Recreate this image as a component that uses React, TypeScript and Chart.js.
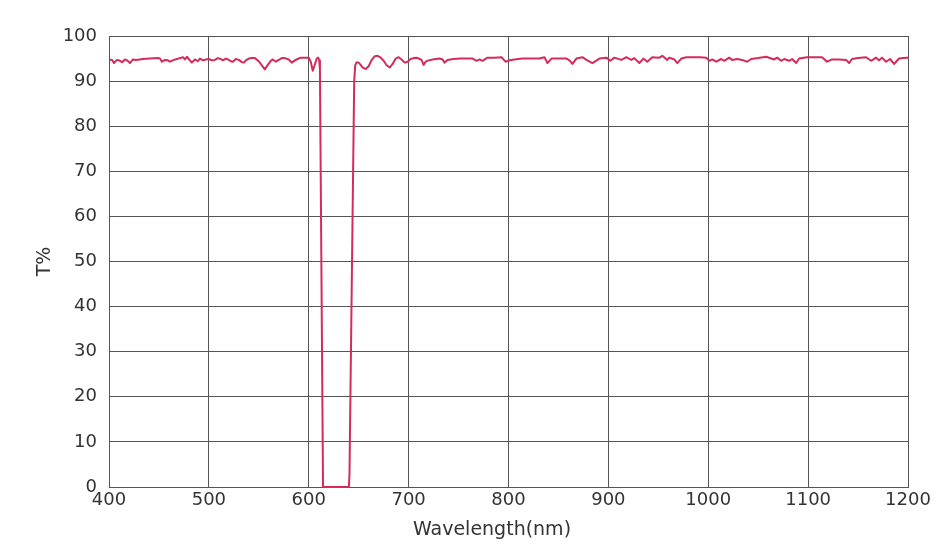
import React, { useEffect, useRef } from "react";
import { Chart, registerables } from "chart.js";

Chart.register(...registerables);

const wavelengths: number[] = [
  400, 403, 405, 408, 411, 413, 416, 418, 421, 424, 427, 434, 441, 449, 451, 453, 456, 459, 461, 465,
  468, 471, 474, 476, 478, 481, 483, 486, 489, 491, 494, 497, 500, 503, 506, 509, 512, 514, 517, 519,
  522, 524, 527, 530, 533, 535, 537, 540, 543, 546, 550, 553, 556, 559, 562, 564, 567, 570, 573, 576,
  580, 583, 586, 589, 592, 596, 600, 602, 604, 606, 608, 609.5, 610.5, 611.2, 614.3,
  640.2, 640.8, 645.5, 646.5, 648, 650, 652, 654, 657, 660, 663, 666, 669, 672, 675,
  678, 681, 684, 687, 690, 693, 696, 699, 702, 705, 708, 711, 713, 715, 717, 720, 724, 727, 731, 734,
  736, 739, 745, 752, 758, 764, 768, 771, 774, 779, 786, 793, 797, 801, 806, 814, 822, 831, 836, 839,
  843, 850, 858, 861, 864, 868, 874, 878, 884, 891, 898, 902, 906, 913, 918, 923, 926, 931, 935, 939,
  944, 951, 954, 959, 961, 966, 969, 973, 978, 985, 992, 998, 1001, 1004, 1008, 1013, 1016, 1021, 1024, 1029,
  1034, 1039, 1043, 1050, 1058, 1066, 1069, 1073, 1076, 1081, 1084, 1088, 1091, 1099, 1106, 1114, 1119, 1124, 1131, 1138,
  1141, 1144, 1150, 1158, 1163, 1168, 1171, 1174, 1178, 1182, 1186, 1191, 1198, 1200,
];

const transmission: number[] = [
  94.8, 94.7, 94.0, 94.7, 94.5, 94.2, 94.8, 94.6, 94.0, 94.8, 94.7, 94.9, 95.0, 95.1, 95.0, 94.3, 94.7, 94.6, 94.3, 94.7,
  94.9, 95.1, 95.3, 94.8, 95.4, 94.6, 94.1, 94.8, 94.4, 95.0, 94.6, 94.8, 94.9, 94.6, 94.7, 95.1, 94.9, 94.6, 95.0, 94.8,
  94.4, 94.3, 94.9, 94.7, 94.2, 94.1, 94.6, 95.0, 95.1, 95.1, 94.4, 93.5, 92.6, 93.6, 94.5, 94.8, 94.3, 94.7, 95.1, 95.1,
  94.8, 94.1, 94.6, 94.9, 95.2, 95.2, 95.2, 94.3, 92.3, 93.6, 95.0, 95.2, 94.6, 92.5, 0,
  0, 3, 90, 93.5, 94.2, 94.1, 93.6, 93.0, 92.7, 93.3, 94.7, 95.5, 95.6, 95.2, 94.5,
  93.5, 93.0, 93.8, 95.0, 95.3, 94.8, 94.1, 94.3, 94.9, 95.1, 95.2, 94.9, 94.7, 93.6, 94.3, 94.6, 94.8, 94.9, 95.0, 94.8,
  94.1, 94.7, 94.9, 95.0, 95.0, 95.0, 94.5, 94.8, 94.5, 95.2, 95.2, 95.3, 94.3, 94.6, 94.8, 95.0, 95.0, 95.0, 95.3, 94.0,
  95.0, 95.0, 95.0, 94.6, 93.8, 95.0, 95.3, 94.7, 94.0, 95.0, 95.2, 94.5, 95.2, 94.7, 95.3, 94.7, 95.1, 94.0, 95.0, 94.3,
  95.3, 95.2, 95.6, 94.7, 95.2, 94.8, 94.0, 95.0, 95.3, 95.3, 95.3, 95.2, 94.5, 94.8, 94.3, 94.9, 94.5, 95.2, 94.7, 94.9,
  94.7, 94.3, 94.9, 95.1, 95.4, 94.8, 95.2, 94.5, 94.9, 94.5, 94.9, 94.0, 95.0, 95.3, 95.3, 95.3, 94.3, 94.8, 94.8, 94.7,
  94.0, 94.9, 95.1, 95.3, 94.5, 95.2, 94.6, 95.2, 94.3, 94.9, 93.8, 95.0, 95.2, 95.2,
];

const xTitle = "Wavelength(nm)";
const yTitle = "T%";
const FONT = "'DejaVu Sans', Verdana, sans-serif";

const titlePlugin = {
  id: "axisTitles",
  afterDraw(chart: any) {
    const { ctx, chartArea } = chart;
    ctx.save();
    ctx.fillStyle = "#333";
    ctx.font = `19px ${FONT}`;
    ctx.textAlign = "center";
    ctx.textBaseline = "middle";
    ctx.fillText(xTitle, 492, 530);
    ctx.translate(45, (chartArea.top + chartArea.bottom) / 2);
    ctx.rotate(-Math.PI / 2);
    ctx.fillText(yTitle, 0, 0);
    ctx.restore();
  },
};

export default function App() {
  const ref = useRef<HTMLCanvasElement | null>(null);

  useEffect(() => {
    document.body.style.margin = "0";
    const canvas = ref.current;
    if (!canvas) return;
    const points = wavelengths.map((w, i) => ({ x: w, y: transmission[i] }));
    const chart = new Chart(canvas, {
      type: "line",
      data: {
        datasets: [
          {
            data: points,
            borderColor: "rgb(212, 44, 88)",
            borderWidth: 2,
            pointRadius: 0,
            tension: 0,
            borderJoinStyle: "round",
            clip: false as any,
            fill: false,
          },
        ],
      },
      options: {
        animation: false,
        responsive: false,
        maintainAspectRatio: false,
        layout: { padding: { left: 0, right: 43, top: 36, bottom: 0 } },
        plugins: { legend: { display: false }, tooltip: { enabled: false } },
        scales: {
          x: {
            type: "linear",
            min: 400,
            max: 1200,
            afterFit: (s: any) => {
              s.height = 66;
            },
            ticks: {
              stepSize: 100,
              color: "#333",
              font: { family: FONT, size: 18 },
              padding: 3,
              maxRotation: 0,
              callback: (v: any) => String(v),
            },
            grid: { color: "#555", lineWidth: 1, drawTicks: false },
            border: { color: "#555", width: 1 },
          },
          y: {
            min: 0,
            max: 100,
            afterFit: (s: any) => {
              s.width = 109;
            },
            ticks: {
              stepSize: 10,
              color: "#333",
              font: { family: FONT, size: 18 },
              padding: 12,
              callback: (v: any) => String(v),
            },
            grid: { color: "#555", lineWidth: 1, drawTicks: false },
            border: { color: "#555", width: 1 },
          },
        },
      },
      plugins: [titlePlugin],
    });
    return () => chart.destroy();
  }, []);

  return (
    <div style={{ width: 951, height: 553, background: "#fff" }}>
      <canvas ref={ref} width={951} height={553} style={{ width: 951, height: 553, display: "block" }} />
    </div>
  );
}
